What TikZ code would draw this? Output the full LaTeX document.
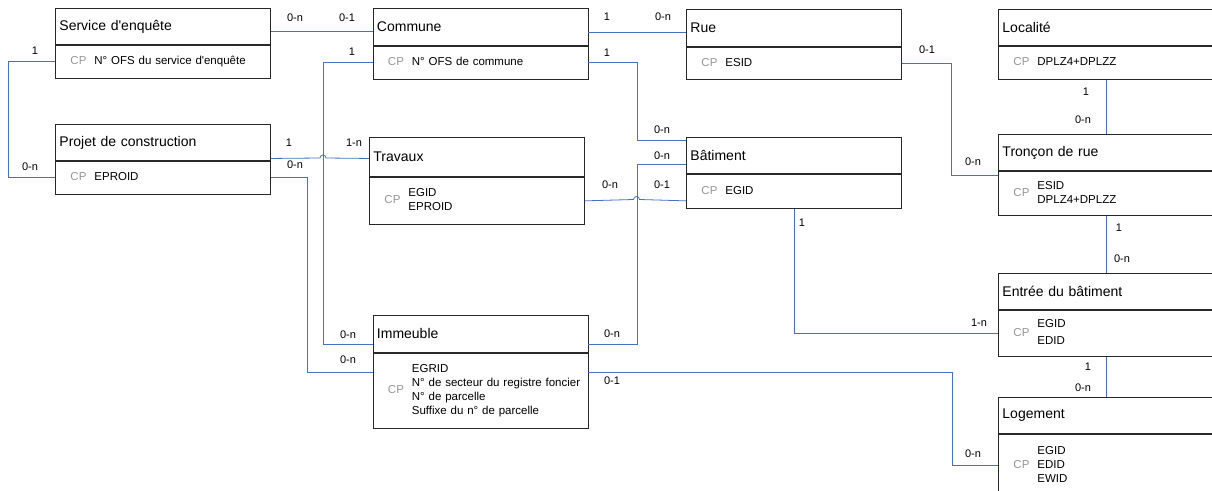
\documentclass[tikz,border=0pt]{standalone}
\usepackage{fontspec}
\setmainfont{Liberation Sans}[Ligatures=TeXOff]
\definecolor{relblue}{RGB}{68,114,196}
\definecolor{cpgray}{RGB}{150,150,150}
\definecolor{boxline}{RGB}{40,40,40}
\newcommand{\cpattr}[1]{\hspace*{15pt}\textcolor{cpgray}{CP}\hspace{8pt}\begin{tabular}[c]{@{}l@{}}#1\end{tabular}}
\tikzset{
  hdr/.style={draw=boxline, line width=0.9pt, anchor=north west, inner xsep=4pt, inner ysep=0pt,
    text width=207pt, align=left, font=\fontsize{14}{17}\selectfont},
  att/.style={draw=boxline, line width=0.9pt, anchor=north west, inner xsep=0pt, inner ysep=0pt,
    text width=215pt, align=left, font=\fontsize{11.5}{14}\selectfont},
  rel/.style={draw=relblue, line width=0.8pt},
  card/.style={inner sep=0pt, font=\fontsize{11}{13}\selectfont}
}
\begin{document}
\begin{tikzpicture}[x=1pt,y=-1pt]
\useasboundingbox (0,0) rectangle (1212,490);
\clip (0,0) rectangle (1212,490);
% entities
\node[hdr, minimum height=36pt] (serv) at (55,8) {Service d'enquête};
\node[att, minimum height=33pt] (servA) at (serv.south west) {\cpattr{N° OFS du service d'enquête}};
\node[hdr, minimum height=36pt] (proj) at (55,124) {Projet de construction};
\node[att, minimum height=33pt] (projA) at (proj.south west) {\cpattr{EPROID}};
\node[hdr, minimum height=37pt] (comm) at (372.5,8) {Commune};
\node[att, minimum height=33pt] (commA) at (comm.south west) {\cpattr{N° OFS de commune}};
\node[hdr, minimum height=37pt] (rue) at (686,9) {Rue};
\node[att, minimum height=32pt] (rueA) at (rue.south west) {\cpattr{ESID}};
\node[hdr, minimum height=36pt] (loc) at (998,9) {Localité};
\node[att, minimum height=33pt] (locA) at (loc.south west) {\cpattr{DPLZ4+DPLZZ}};
\node[hdr, minimum height=39pt] (trav) at (369,137) {Travaux};
\node[att, minimum height=47pt] (travA) at (trav.south west) {\cpattr{EGID\\EPROID}};
\node[hdr, minimum height=36pt] (bat) at (686,137) {Bâtiment};
\node[att, minimum height=34pt] (batA) at (bat.south west) {\cpattr{EGID}};
\node[hdr, minimum height=36pt] (tron) at (998,134) {Tronçon de rue};
\node[att, minimum height=44pt] (tronA) at (tron.south west) {\cpattr{ESID\\DPLZ4+DPLZZ}};
\node[hdr, minimum height=37pt] (imm) at (372.5,315) {Immeuble};
\node[att, minimum height=75pt] (immA) at (imm.south west) {\cpattr{EGRID\\N° de secteur du registre foncier\\N° de parcelle\\Suffixe du n° de parcelle}};
\node[hdr, minimum height=36pt] (entr) at (998,273) {Entrée du bâtiment};
\node[att, minimum height=46pt] (entrA) at (entr.south west) {\cpattr{EGID\\[3pt]EDID}};
\node[hdr, minimum height=36pt] (loge) at (998,397) {Logement};
\node[att, minimum height=62pt] (logeA) at (loge.south west) {\cpattr{EGID\\EDID\\EWID}};
% relations
\draw[rel] ([yshift=-5pt]serv.east) -- ([yshift=-4.5pt]comm.west);
\draw[rel] ([yshift=-5pt]comm.east) -- ([yshift=-4pt]rue.west);
\draw[rel] (servA.west) -- ++(-47,0) |- (projA.west);
\draw[rel] (commA.west) -- ++(-49,0) |- ([yshift=-10.5pt]imm.west);
\draw[rel] ([yshift=-16pt]proj.east) -- (320,158) arc[start angle=180, end angle=0, radius=3pt] -- ([yshift=-1.5pt]trav.west);
\draw[rel] (projA.east) -- ++(36,0) |- ([yshift=18.5pt]immA.west);
\draw[rel] (commA.east) -- ++(49,0) |- ([yshift=15pt]bat.west);
\draw[rel] (travA.east) -- (633.5,199.5) arc[start angle=180, end angle=0, radius=3pt] -- (travA.east -| batA.west);
\draw[rel] ([yshift=-10.5pt]imm.east) -- ++(49,0) |- ([yshift=-9pt]bat.west);
\draw[rel] (rueA.east) -- ++(49,0) |- ([yshift=18pt]tronA.west);
\draw[rel] (locA.south) -- (tron.north);
\draw[rel] (tronA.south) -- (entr.north);
\draw[rel] (batA.south) |- (entrA.west);
\draw[rel] (entrA.south) -- (loge.north);
\draw[rel] ([yshift=18.5pt]immA.east) -- ++(363.5,0) |- (logeA.west);
% cardinalities
\node[card] (c1a) at (295,18) {0-n};
\node[card] (c1b) at (347,18) {0-1};
\node[card] (c2a) at (607,17) {1};
\node[card] (c2b) at (663,17) {0-n};
\node[card] (c3a) at (35,51) {1};
\node[card] (c3b) at (30,167) {0-n};
\node[card] (c4a) at (352,52) {1};
\node[card] (c4b) at (348,335) {0-n};
\node[card] (c5a) at (289,143) {1};
\node[card] (c5b) at (354,143) {1-n};
\node[card] (c6a) at (295,165) {0-n};
\node[card] (c6b) at (348,360) {0-n};
\node[card] (c7a) at (607,53) {1};
\node[card] (c7b) at (662,130) {0-n};
\node[card] (c8a) at (610,185) {0-n};
\node[card] (c8b) at (662,185) {0-1};
\node[card] (c9a) at (612,334) {0-n};
\node[card] (c9b) at (662,156) {0-n};
\node[card] (c10a) at (927,50) {0-1};
\node[card] (c10b) at (973,162) {0-n};
\node[card] (c11a) at (1086,92) {1};
\node[card] (c11b) at (1083,120) {0-n};
\node[card] (c12a) at (1119,228) {1};
\node[card] (c12b) at (1122,259) {0-n};
\node[card] (c13a) at (802,223) {1};
\node[card] (c13b) at (979,323) {1-n};
\node[card] (c14a) at (1088,367) {1};
\node[card] (c14b) at (1083,388) {0-n};
\node[card] (c15a) at (612,381) {0-1};
\node[card] (c15b) at (973,454) {0-n};
\end{tikzpicture}
\end{document}
